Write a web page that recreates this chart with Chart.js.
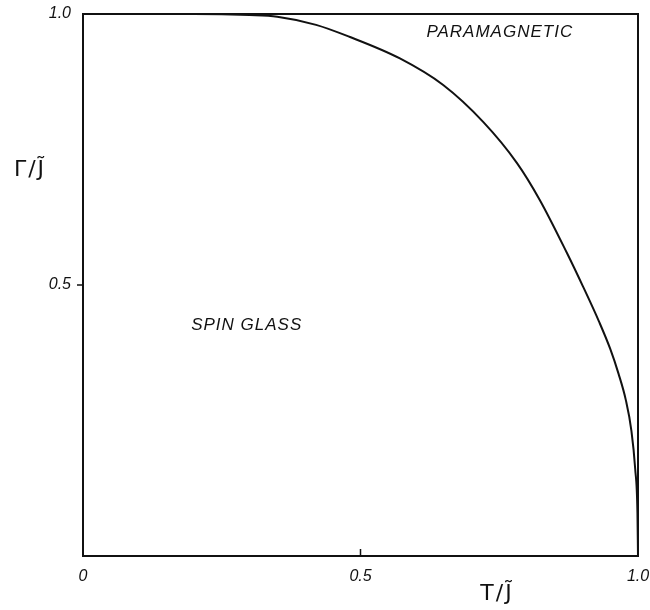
<!DOCTYPE html>
<html>
<head>
<meta charset="utf-8">
<script src="https://cdn.jsdelivr.net/npm/chart.js@4"></script>
<style>
  html, body { margin: 0; padding: 0; background: #fff; }
  #wrap { width: 650px; height: 610px; }
</style>
</head>
<body>
<div id="wrap"><canvas id="phaseChart" width="650" height="610"></canvas></div>
<script>
// phase boundary
var tValues = [0, 0.1, 0.2, 0.3, 0.35, 0.42, 0.48, 0.571, 0.649, 0.721, 0.782, 0.823, 0.872, 0.901, 0.93, 0.95, 0.965, 0.978, 0.988, 0.995, 0.999, 1.0];
var gammaValues = [1, 1, 1, 0.998, 0.995, 0.98, 0.958, 0.918, 0.869, 0.801, 0.725, 0.657, 0.559, 0.497, 0.432, 0.382, 0.336, 0.288, 0.232, 0.16, 0.08, 0];

var xTicks = [0, 0.5, 1];
var xTickLabels = ['0', '0.5', '1.0'];
var yTicks = [0.5, 1];
var yTickLabels = ['0.5', '1.0'];

var regionLabels = ['PARAMAGNETIC', 'SPIN GLASS'];
var regionT = [0.751, 0.295];
var regionGamma = [0.967, 0.426];

var FONT = '"Liberation Sans", Arial, sans-serif';

var framePlugin = {
    id: 'frame',
    afterDraw: function (chart) {
        var ctx = chart.ctx,
            a = chart.chartArea,
            xs = chart.scales.x,
            ys = chart.scales.y,
            i;

        ctx.save();
        ctx.strokeStyle = '#111';
        ctx.lineWidth = 2;
        ctx.strokeRect(a.left, a.top, a.right - a.left, a.bottom - a.top);

        // small tick marks at 0.5
        ctx.lineWidth = 1.5;
        ctx.beginPath();
        ctx.moveTo(a.left - 6, ys.getPixelForValue(0.5));
        ctx.lineTo(a.left, ys.getPixelForValue(0.5));
        ctx.moveTo(xs.getPixelForValue(0.5), a.bottom);
        ctx.lineTo(xs.getPixelForValue(0.5), a.bottom - 7);
        ctx.stroke();

        ctx.fillStyle = '#111';
        ctx.textAlign = 'center';
        ctx.textBaseline = 'middle';
        ctx.font = 'italic 17px ' + FONT;
        ctx.letterSpacing = '1px';
        for (i = 0; i < regionLabels.length; i++) {
            ctx.fillText(regionLabels[i], xs.getPixelForValue(regionT[i]), ys.getPixelForValue(regionGamma[i]));
        }

        // axis titles
        ctx.letterSpacing = '2px';
        ctx.font = '22px "DejaVu Sans", sans-serif';
        ctx.fillText('\u0393/J\u0303', 30, ys.getPixelForValue(0.712));
        ctx.fillText('T/J\u0303', xs.getPixelForValue(0.746), 594);
        ctx.restore();
    }
};

new Chart(document.getElementById('phaseChart').getContext('2d'), {
    type: 'scatter',
    data: {
        datasets: [{
            data: tValues.map(function (t, i) { return { x: t, y: gammaValues[i] }; }),
            showLine: true,
            borderColor: '#111',
            borderWidth: 2,
            pointRadius: 0,
            cubicInterpolationMode: 'monotone',
            fill: false
        }]
    },
    options: {
        responsive: false,
        animation: false,
        layout: { padding: { top: 14, right: 12, left: 0, bottom: 0 } },
        plugins: { legend: { display: false }, tooltip: { enabled: false } },
        scales: {
            x: {
                type: 'linear',
                min: 0,
                max: 1,
                afterBuildTicks: function (axis) {
                    axis.ticks = xTicks.map(function (v) { return { value: v }; });
                },
                afterFit: function (axis) {
                    axis.height = 54;
                    // let the "1.0" label run into the right margin
                    axis.paddingRight = 0;
                },
                ticks: {
                    callback: function (v) { return xTickLabels[xTicks.indexOf(v)]; },
                    maxRotation: 0,
                    padding: 3,
                    color: '#111',
                    font: { family: FONT, size: 16, style: 'italic' }
                },
                grid: { display: false },
                border: { display: false }
            },
            y: {
                type: 'linear',
                min: 0,
                max: 1,
                afterBuildTicks: function (axis) {
                    axis.ticks = yTicks.map(function (v) { return { value: v }; });
                },
                afterFit: function (axis) { axis.width = 83; },
                ticks: {
                    callback: function (v) { return yTickLabels[yTicks.indexOf(v)]; },
                    padding: 4,
                    color: '#111',
                    font: { family: FONT, size: 16, style: 'italic' }
                },
                grid: { display: false },
                border: { display: false }
            }
        }
    },
    plugins: [framePlugin]
});
</script>
</body>
</html>
